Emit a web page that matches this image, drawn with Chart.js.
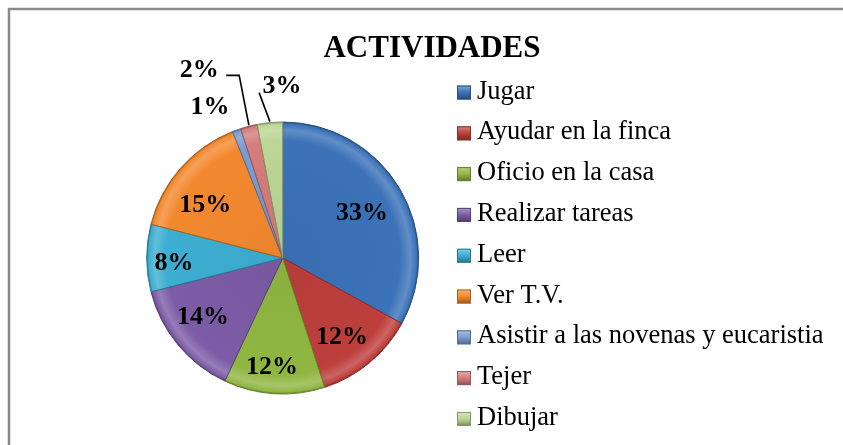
<!DOCTYPE html>
<html lang="es">
<head>
  <meta charset="utf-8">
  <title>ACTIVIDADES</title>
  <script src="https://cdn.jsdelivr.net/npm/chart.js"></script>
  <style>
    html, body { margin: 0; padding: 0; background: #fff; }
    #wrap { width: 843px; height: 445px; position: relative; }
  </style>
</head>
<body>
<div id="wrap">
  <canvas id="pieChart"></canvas>
</div>

<script>
  // data (percent)
  const categories = ['Jugar', 'Ayudar en la finca', 'Oficio en la casa', 'Realizar tareas', 'Leer',
                      'Ver T.V.', 'Asistir a las novenas y eucaristia', 'Tejer', 'Dibujar'];
  const values = [33, 12, 12, 14, 8, 15, 1, 2, 3];
  const chartTitle = 'ACTIVIDADES';

  const colors = ['#3b72b8', '#bd3f3c', '#90b642', '#7c5ca6', '#3caed1',
                  '#f3892f', '#7b9bd2', '#d37d7c', '#bcd696'];

  // label placement: [radius factor, angle shift in degrees]
  const labelPlace = [[0.67, 1], [0.73, 3], [0.81, 2], [0.73, 3], [0.80, -3],
                      [0.69, -7], [1.23, -6], [1.51, -9.6], [1.26, 5.2]];

  const R = 136;
  const serif = '"Liberation Serif", "Times New Roman", serif';

  function shade(hex, f) {
    const n = parseInt(hex.slice(1), 16);
    let r = n >> 16, g = (n >> 8) & 255, b = n & 255;
    if (f >= 0) { r += (255 - r) * f; g += (255 - g) * f; b += (255 - b) * f; }
    else { r *= 1 + f; g *= 1 + f; b *= 1 + f; }
    return 'rgb(' + Math.round(r) + ',' + Math.round(g) + ',' + Math.round(b) + ')';
  }

  function sliceFill(context) {
    const chart = context.chart;
    const base = colors[context.dataIndex];
    const a = chart.chartArea;
    if (!a) return base;
    const cx = (a.left + a.right) / 2, cy = (a.top + a.bottom) / 2;
    const g = chart.ctx.createRadialGradient(cx, cy, 0, cx, cy, R);
    g.addColorStop(0, shade(base, -0.04));
    g.addColorStop(0.86, base);
    g.addColorStop(0.94, shade(base, 0.2));
    g.addColorStop(0.985, base);
    g.addColorStop(1, shade(base, -0.3));
    return g;
  }

  const decorPlugin = {
    id: 'decor',
    beforeDraw(chart) {
      const ctx = chart.ctx;
      ctx.save();
      ctx.fillStyle = '#fff';
      ctx.fillRect(0, 0, chart.width, chart.height);
      // frame (only top and left are visible)
      ctx.strokeStyle = '#8a8a8a';
      ctx.lineWidth = 2.5;
      ctx.beginPath();
      ctx.moveTo(9, chart.height);
      ctx.lineTo(9, 9);
      ctx.lineTo(chart.width, 9);
      ctx.stroke();
      ctx.restore();
    },
    afterDraw(chart) {
      const ctx = chart.ctx;
      const meta = chart.getDatasetMeta(0);
      ctx.save();

      // title
      ctx.fillStyle = '#000';
      ctx.font = 'bold 31px ' + serif;
      ctx.textAlign = 'center';
      ctx.textBaseline = 'alphabetic';
      ctx.fillText(chartTitle, 432, 57);

      // data labels
      ctx.font = 'bold 26px ' + serif;
      ctx.textBaseline = 'middle';
      meta.data.forEach((arc, i) => {
        const p = arc.getProps(['x', 'y', 'startAngle', 'endAngle', 'outerRadius'], true);
        const mid = (p.startAngle + p.endAngle) / 2;
        const ang = mid + labelPlace[i][1] * Math.PI / 180;
        const d = p.outerRadius * labelPlace[i][0];
        const lx = p.x + Math.cos(ang) * d;
        const ly = p.y + Math.sin(ang) * d;
        ctx.fillStyle = '#000';
        ctx.fillText(values[i] + '%', lx, ly);

        // leader lines for the two small outer labels
        const ex = p.x + Math.cos(mid) * p.outerRadius;
        const ey = p.y + Math.sin(mid) * p.outerRadius;
        ctx.strokeStyle = '#000';
        ctx.lineWidth = 1.6;
        if (i === 7) {
          ctx.beginPath();
          ctx.moveTo(lx + 27, ly + 5);
          ctx.lineTo(lx + 40, ly + 5);
          ctx.lineTo(ex, ey - 1);
          ctx.stroke();
        } else if (i === 8) {
          ctx.beginPath();
          ctx.moveTo(lx - 23, ly + 6);
          ctx.lineTo(ex, ey - 1);
          ctx.stroke();
        }
      });

      // legend
      ctx.font = '26.5px ' + serif;
      ctx.textAlign = 'left';
      ctx.textBaseline = 'alphabetic';
      categories.forEach((name, i) => {
        const base = 98.5 + i * 40.8;
        const bx = 457, by = base - 13, s = 14;
        const g = ctx.createLinearGradient(bx, by, bx, by + s);
        g.addColorStop(0, shade(colors[i], 0.35));
        g.addColorStop(0.5, colors[i]);
        g.addColorStop(1, shade(colors[i], -0.35));
        ctx.fillStyle = g;
        ctx.fillRect(bx, by, s, s);
        ctx.strokeStyle = shade(colors[i], -0.3);
        ctx.lineWidth = 1;
        ctx.strokeRect(bx + 0.5, by + 0.5, s - 1, s - 1);
        ctx.fillStyle = '#000';
        ctx.fillText(name, 477, base);
      });
      ctx.restore();
    }
  };

  new Chart(document.getElementById('pieChart').getContext('2d'), {
    type: 'pie',
    data: {
      labels: categories,
      datasets: [{
        data: values,
        backgroundColor: sliceFill,
        borderColor: colors.map(c => shade(c, -0.3)),
        borderWidth: 1,
        radius: R
      }]
    },
    options: {
      responsive: true,
      maintainAspectRatio: false,
      animation: false,
      layout: { padding: { left: 100, right: 377.6, top: 120, bottom: 49 } },
      plugins: {
        legend: { display: false },
        title: { display: false },
        tooltip: { enabled: false }
      }
    },
    plugins: [decorPlugin]
  });
</script>
</body>
</html>
